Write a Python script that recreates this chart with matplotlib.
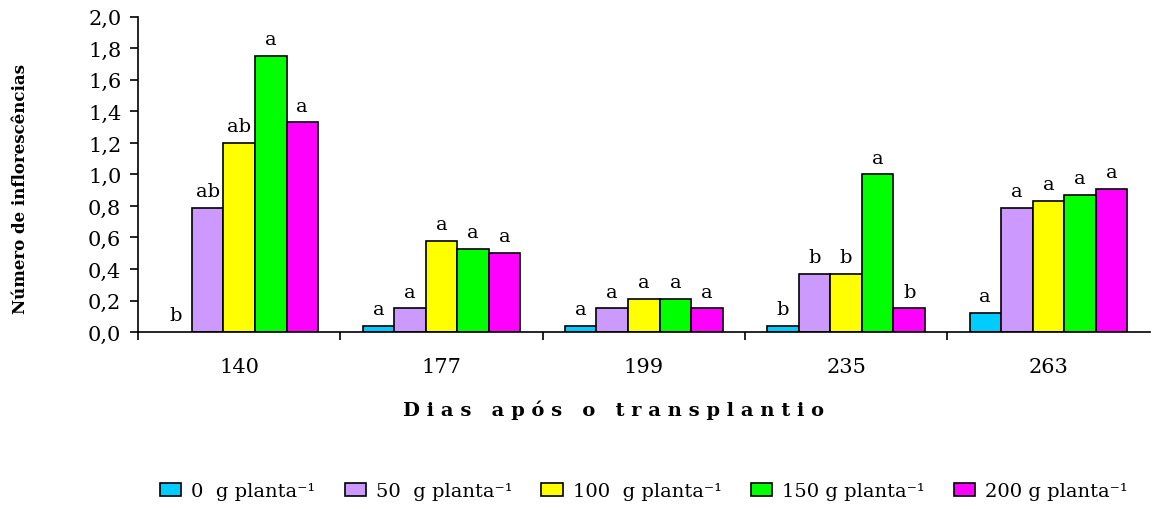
import numpy as np
import matplotlib.pyplot as plt

plt.rcParams['font.family'] = ['DejaVu Serif']

dias = ['140', '177', '199', '235', '263']
doses = ['0  g planta⁻¹', '50  g planta⁻¹', '100  g planta⁻¹', '150 g planta⁻¹', '200 g planta⁻¹']
cores = ['#00ccff', '#cc99ff', '#ffff00', '#00ff00', '#ff00ff']

v0 = [0.0, 0.04, 0.04, 0.04, 0.12]
v50 = [0.79, 0.15, 0.15, 0.37, 0.79]
v100 = [1.20, 0.58, 0.21, 0.37, 0.83]
v150 = [1.75, 0.53, 0.21, 1.00, 0.87]
v200 = [1.33, 0.50, 0.15, 0.15, 0.91]

l0 = ['b', 'a', 'a', 'b', 'a']
l50 = ['ab', 'a', 'a', 'b', 'a']
l100 = ['ab', 'a', 'a', 'b', 'a']
l150 = ['a', 'a', 'a', 'a', 'a']
l200 = ['a', 'a', 'a', 'b', 'a']

series = [v0, v50, v100, v150, v200]
letras = [l0, l50, l100, l150, l200]

fig = plt.figure(figsize=(11.6, 5.1), dpi=100)
ax = fig.add_axes([0.119, 0.347, 0.872, 0.618])

x = np.arange(len(dias))
w = 0.156
for i, (vals, lets) in enumerate(zip(series, letras)):
    pos = x + (i - 2) * w
    # zero-height bars leave no visible outline in the original
    lw = [1.2 if v > 0 else 0 for v in vals]
    ax.bar(pos, vals, w, color=cores[i], edgecolor='black', linewidth=lw,
           label=doses[i], zorder=2)
    for p, v, t in zip(pos, vals, lets):
        ax.text(p, v + 0.05, t, ha='center', va='bottom', fontsize=14)

ax.set_xlim(-0.5, len(dias) - 0.5)
ax.set_ylim(0, 2.0)
ax.set_yticks(np.arange(0, 2.01, 0.2))
ax.set_yticklabels([f'{t:.1f}'.replace('.', ',') for t in np.arange(0, 2.01, 0.2)],
                   fontsize=15)
ax.set_xticks(x)
ax.set_xticklabels(dias, fontsize=15)
ax.set_xticks(np.arange(-0.5, len(dias) - 0.5, 1.0), minor=True)
ax.tick_params(axis='x', which='major', length=0, pad=18)
ax.tick_params(axis='x', which='minor', length=6, width=1.2, direction='out')
ax.tick_params(axis='y', length=6, width=1.2, direction='out', pad=6)

for s in ['top', 'right']:
    ax.spines[s].set_visible(False)
for s in ['left', 'bottom']:
    ax.spines[s].set_linewidth(1.2)

ax.set_xlabel('D i a s   a p ó s   o   t r a n s p l a n t i o', fontsize=14,
              fontweight='bold')
ax.xaxis.set_label_coords(0.47, -0.215)
fig.text(0.018, 0.63, 'Número de inflorescências', rotation=90, ha='center',
         va='center', fontsize=12, fontweight='bold')

leg = fig.legend(loc='center', bbox_to_anchor=(0.555, 0.035), ncol=5, frameon=False,
                 fontsize=14, handlelength=1.1, handleheight=0.7, columnspacing=1.5,
                 handletextpad=0.5)
for h in leg.legend_handles:
    h.set_linewidth(1.2)
    h.set_edgecolor('black')

fig.savefig('out.png', dpi=100)
